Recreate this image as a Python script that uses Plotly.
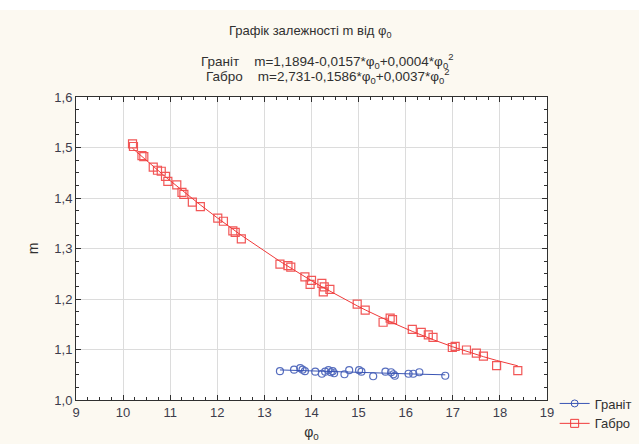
import numpy as np
import plotly.graph_objects as go

# Граніт (granite) data
granite_phi = [13.33, 13.63, 13.76, 13.81, 13.86, 14.08, 14.22, 14.29, 14.36, 14.41,
               14.45, 14.48, 14.70, 14.80, 15.01, 15.06, 15.31, 15.57, 15.69, 15.74,
               15.77, 16.06, 16.16, 16.29, 16.84]
granite_m = [1.057, 1.060, 1.063, 1.060, 1.057, 1.056, 1.052, 1.056, 1.059, 1.055,
             1.057, 1.053, 1.051, 1.059, 1.059, 1.056, 1.047, 1.056, 1.055, 1.051,
             1.048, 1.052, 1.052, 1.055, 1.048]

# Габро (gabbro) data
gabbro_phi = [10.20, 10.22, 10.40, 10.44, 10.64, 10.73, 10.81, 10.90, 10.95, 11.14,
              11.25, 11.29, 11.47, 11.64, 12.01, 12.13, 12.33, 12.38, 12.51, 13.33,
              13.50, 13.56, 13.86, 14.00, 13.97, 14.22, 14.27, 14.25, 14.39, 14.97,
              15.14, 15.52, 15.67, 15.72, 16.14, 16.33, 16.48, 16.58, 16.99, 17.05,
              17.29, 17.50, 17.65, 17.93, 18.38]
gabbro_m = [1.507, 1.502, 1.484, 1.482, 1.461, 1.455, 1.453, 1.443, 1.433, 1.426,
            1.411, 1.407, 1.392, 1.383, 1.360, 1.354, 1.335, 1.332, 1.319, 1.269,
            1.266, 1.263, 1.244, 1.237, 1.229, 1.231, 1.224, 1.214, 1.219, 1.190,
            1.178, 1.154, 1.162, 1.159, 1.140, 1.134, 1.129, 1.124, 1.104, 1.106,
            1.099, 1.093, 1.087, 1.068, 1.058]

x_ticks = list(range(9, 20))
y_ticks = [1.0, 1.1, 1.2, 1.3, 1.4, 1.5, 1.6]

BLUE = "#3a55b4"
RED = "#f03a3a"
FONT = "Liberation Sans, Arial, sans-serif"
TXT = "#303030"


def fit_curve(xs, ys):
    coef = np.polyfit(xs, ys, 2)
    xs_sorted = np.sort(np.array(xs))
    return xs_sorted, np.polyval(coef, xs_sorted)


fig = go.Figure()

for name, xs, ys, color, symbol, size in [
    ("Граніт", granite_phi, granite_m, BLUE, "circle-open", 7),
    ("Габро", gabbro_phi, gabbro_m, RED, "square-open", 8),
]:
    fx, fy = fit_curve(xs, ys)
    fig.add_trace(go.Scatter(x=fx, y=fy, mode="lines", line=dict(color=color, width=1),
                             showlegend=False, hoverinfo="skip"))
    fig.add_trace(go.Scatter(x=xs, y=ys, mode="markers", name=name,
                             marker=dict(symbol=symbol, size=size, color=color,
                                         line=dict(width=1.2, color=color)),
                             opacity=0.85, showlegend=False))
    fig.add_trace(go.Scatter(x=[None], y=[None], mode="lines+markers", name=name,
                             line=dict(color=color, width=1),
                             marker=dict(symbol=symbol, size=size, color=color)))

axis_common = dict(
    showline=True, linecolor=TXT, linewidth=1, mirror="ticks",
    ticks="inside", ticklen=5, tickcolor=TXT,
    showgrid=True, gridcolor="#dcdcdc", gridwidth=1, zeroline=False,
    tickfont=dict(family=FONT, size=13, color="#3c3c4c"),
    automargin=False,
)

fig.update_xaxes(range=[9, 19], tickvals=x_ticks, ticktext=[str(v) for v in x_ticks],
                 minor=dict(dtick=0.25, ticks="inside", ticklen=3, tickcolor=TXT,
                            showgrid=False),
                 title=dict(text="φ<sub>0</sub>", font=dict(family=FONT, size=14, color=TXT),
                            standoff=8),
                 **axis_common)
fig.update_yaxes(range=[1.0, 1.6], tickvals=y_ticks, tickformat=".1f",
                 minor=dict(dtick=0.025, ticks="inside", ticklen=3, tickcolor=TXT,
                            showgrid=False),
                 title=dict(text="m", font=dict(family=FONT, size=14, color=TXT),
                            standoff=12),
                 **axis_common)

fig.update_layout(
    width=639, height=444, autosize=False,
    margin=dict(l=76, r=92, t=97, b=44, pad=0, autoexpand=False),
    paper_bgcolor="#fcf9f1", plot_bgcolor="#ffffff",
    separators=",.",
    font=dict(family=FONT, size=13, color=TXT),
    legend=dict(xref="container", yref="container", x=0.868, y=0.125,
                xanchor="left", yanchor="top", bgcolor="rgba(0,0,0,0)",
                font=dict(family=FONT, size=13, color=TXT),
                itemwidth=30, tracegroupgap=0),
    shapes=[dict(type="rect", xref="paper", yref="paper", x0=-0.3, x1=1.4,
                 y0=1.287, y1=1.4, fillcolor="#ffffff", line=dict(width=0), layer="below")],
    annotations=[
        dict(text="Графік залежності m від φ<sub>0</sub>", xref="paper", yref="paper",
             x=0.497, y=1.216, showarrow=False, xanchor="center", yanchor="middle",
             font=dict(family=FONT, size=13, color=TXT)),
        dict(text="Граніт&nbsp;&nbsp;&nbsp;&nbsp;m=1,1894-0,0157*φ<sub>0</sub>+0,0004*φ<sub>0</sub><sup>2</sup>",
             xref="paper", yref="paper", x=0.533, y=1.118, showarrow=False,
             xanchor="center", yanchor="middle",
             font=dict(family=FONT, size=13.5, color=TXT)),
        dict(text="Габро&nbsp;&nbsp;&nbsp;&nbsp;m=2,731-0,1586*φ<sub>0</sub>+0,0037*φ<sub>0</sub><sup>2</sup>",
             xref="paper", yref="paper", x=0.533, y=1.070, showarrow=False,
             xanchor="center", yanchor="middle",
             font=dict(family=FONT, size=13.5, color=TXT)),
    ],
)

fig.write_html("out.html", config={"displayModeBar": False},
               post_script="document.body.style.margin='0';document.body.style.padding='0';")
